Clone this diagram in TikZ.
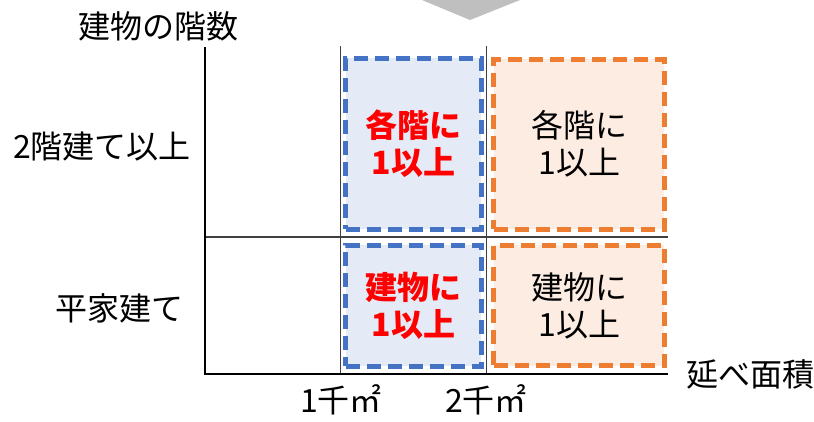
\documentclass[tikz,border=0pt]{standalone}
\usepackage{fontspec}
\setmainfont{Noto Sans CJK JP}
\definecolor{bluel}{HTML}{4472C4}
\definecolor{bluef}{HTML}{E5EBF6}
\definecolor{orgl}{HTML}{ED7D31}
\definecolor{orgf}{HTML}{FCECE2}
\definecolor{gridc}{HTML}{404040}
\definecolor{arrowc}{HTML}{BFBFBF}
\definecolor{redt}{HTML}{FF0000}
\begin{document}
\begin{tikzpicture}[x=1pt,y=-1pt,
  lbl/.style={inner sep=0pt, font=\fontsize{32}{38}\selectfont},
  boxbase/.style={rectangle, inner sep=0pt, outer sep=0pt, line width=5pt,
    dash pattern=on 14pt off 7pt, align=center, font=\fontsize{32}{37}\selectfont},
  bluebox/.style={boxbase, draw=bluel, fill=bluef, text=redt, font=\fontsize{32}{37}\selectfont\bfseries},
  orgbox/.style={boxbase, draw=orgl, fill=orgf, text=black},
  axisline/.style={black, line width=1.3pt},
  gridline/.style={gridc, line width=1.3pt}]
\useasboundingbox (0,0) rectangle (814,421);
% top arrow tip
\fill[arrowc] (422,0) -- (520,0) -- (470,20) -- cycle;
% coordinates
\coordinate (o) at (205,374);
\coordinate (ytop) at (205,47);
\coordinate (xend) at (668,374);
\coordinate (v1t) at (340.7,46);
\coordinate (v1b) at (340.7,374);
\coordinate (v2t) at (486.5,46);
\coordinate (v2b) at (486.5,374);
\coordinate (hl) at (205,237);
\coordinate (hr) at (668,237);
% grid
\draw[gridline] (v1t) -- (v1b);
\draw[gridline] (v2t) -- (v2b);
\draw[gridline] (hl) -- (hr);
% axes
\draw[axisline] (ytop) -- (o) -- (xend);
% boxes
\node[bluebox, minimum width=135.5pt, minimum height=171.1pt] (b1) at (413.3,143.8) {各階に\\1以上};
\node[bluebox, minimum width=135.5pt, minimum height=121pt] (b2) at (413.3,305.5) {建物に\\1以上};
\node[orgbox, minimum width=170.5pt, minimum height=170.4pt] (o1) at (579.2,144.2) {各階に\\1以上};
\node[orgbox, minimum width=170.5pt, minimum height=120.5pt] (o2) at (579.2,305.5) {建物に\\1以上};
% labels
\node[lbl] (ty) at (158,26) {建物の階数};
\node[lbl] (l1) at (102,147) {2階建て以上};
\node[lbl] (l2) at (119,308) {平家建て};
\node[lbl] (x1) at (341,400) {1千㎡};
\node[lbl] (x2) at (486,400) {2千㎡};
\node[lbl] (tx) at (750,374) {延べ面積};
\end{tikzpicture}
\end{document}
